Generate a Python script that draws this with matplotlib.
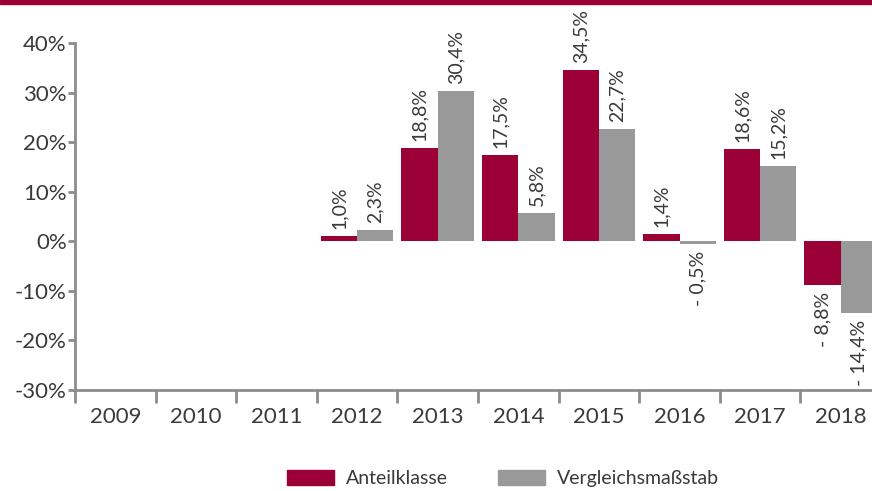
import numpy as np
import matplotlib.pyplot as plt
from matplotlib.patches import Patch

years = ['2009', '2010', '2011', '2012', '2013', '2014', '2015', '2016', '2017', '2018']
anteil = [np.nan, np.nan, np.nan, 1.0, 18.8, 17.5, 34.5, 1.4, 18.6, -8.8]
vergleich = [np.nan, np.nan, np.nan, 2.3, 30.4, 5.8, 22.7, -0.5, 15.2, -14.4]
y_ticks = [-30, -20, -10, 0, 10, 20, 30, 40]

red = '#9b0036'
grey = '#999999'
txt = '#3a3a3a'
spine = '#8c8c8c'

plt.rcParams['font.family'] = ['Lato', 'DejaVu Sans']

fig = plt.figure(figsize=(8.72, 4.91), dpi=100)
# red band on top
fig.patches.append(plt.Rectangle((0, 1 - 4 / 491), 1, 4 / 491, transform=fig.transFigure,
                                 color=red, zorder=0))

ax = fig.add_axes([75 / 872, 101 / 491, 806 / 872, 347 / 491])

x = np.arange(len(years))
w = 0.45


def fmt(v):
    s = ('%.1f' % abs(v)).replace('.', ',') + '%'
    return ('- ' + s) if v < 0 else s


for off, vals, col in [(-w / 2, anteil, red), (w / 2, vergleich, grey)]:
    ax.bar(x + off, vals, width=w, color=col, zorder=2)
    for xi, v in zip(x, vals):
        if np.isnan(v):
            continue
        if v >= 0:
            ax.annotate(fmt(v), (xi + off, v), xytext=(0, 5), textcoords='offset points',
                        rotation=90, ha='center', va='bottom', fontsize=14, color=txt)
        else:
            ax.annotate(fmt(v), (xi + off, v), xytext=(0, -5), textcoords='offset points',
                        rotation=90, ha='center', va='top', fontsize=14, color=txt)

ax.set_xlim(-0.5, len(years) - 0.5)
ax.set_ylim(-30, 40)
ax.set_yticks(y_ticks)
ax.set_yticklabels(['%d%%' % t for t in y_ticks])

ax.set_xticks(np.arange(len(years) + 1) - 0.5)
ax.set_xticklabels([])
ax.set_xticks(x, minor=True)
ax.set_xticklabels(years, minor=True)
ax.tick_params(axis='x', which='major', length=9, width=2, color=spine, direction='out')
ax.tick_params(axis='x', which='minor', length=0, pad=12, labelsize=16, labelcolor=txt)
ax.tick_params(axis='y', length=5, width=2, color=spine, pad=1, labelsize=16, labelcolor=txt)

for s in ['top', 'right']:
    ax.spines[s].set_visible(False)
for s in ['left', 'bottom']:
    ax.spines[s].set_color(spine)
    ax.spines[s].set_linewidth(2)

handles = [Patch(color=red, label='Anteilklasse'), Patch(color=grey, label='Vergleichsmaßstab')]
fig.legend(handles=handles, loc='center', bbox_to_anchor=(0.577, 0.026), ncol=2, frameon=False,
           fontsize=14, handlelength=2.4, handleheight=0.8, handletextpad=0.6,
           columnspacing=2.6, labelcolor=txt)

fig.savefig('out.png', dpi=100)
